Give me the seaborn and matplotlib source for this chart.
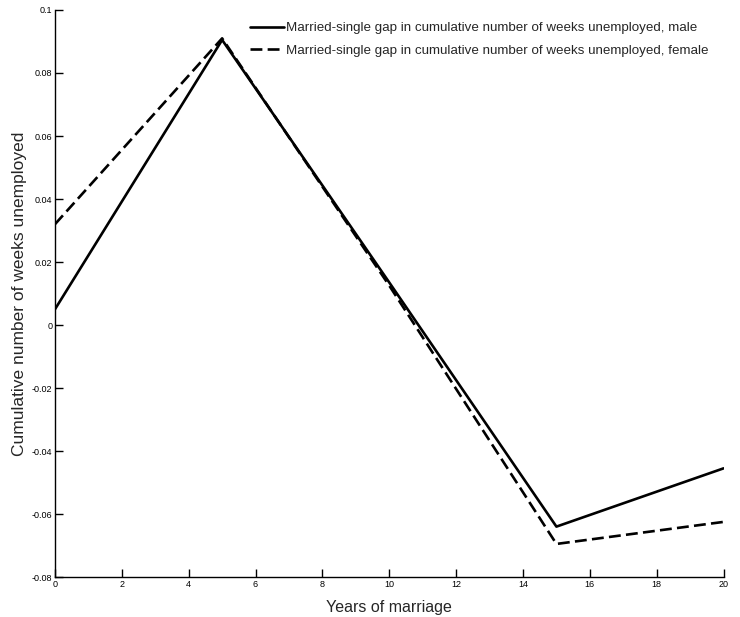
import pandas as pd
import seaborn as sns
import matplotlib.pyplot as plt

sns.set_style("white")
plt.rcParams['font.family'] = ['Liberation Sans', 'DejaVu Sans']

# data
years = [0, 5, 10, 15, 20]
male = [0.005, 0.0905, 0.0135, -0.064, -0.0455]
female = [0.032, 0.091, 0.0125, -0.0695, -0.0625]
lab_m = "Married-single gap in cumulative number of weeks unemployed, male"
lab_f = "Married-single gap in cumulative number of weeks unemployed, female"

df = pd.concat([
    pd.DataFrame({"Years": years, "Gap": male, "Series": lab_m}),
    pd.DataFrame({"Years": years, "Gap": female, "Series": lab_f}),
])

fig = plt.figure(figsize=(7.4, 6.17), dpi=100)
ax = fig.add_axes([0.0743, 0.0648, 0.9035, 0.919])

sns.lineplot(data=df, x="Years", y="Gap", style="Series",
             dashes={lab_m: "", lab_f: (4.5, 2)}, color="black",
             linewidth=1.9, ax=ax)

ax.set_xlim(0, 20)
ax.set_ylim(-0.08, 0.1)
ax.set_xticks(range(0, 21, 2))
ax.set_yticks([-0.08, -0.06, -0.04, -0.02, 0, 0.02, 0.04, 0.06, 0.08, 0.1])
ax.set_yticklabels(["-0.08", "-0.06", "-0.04", "-0.02", "0", "0.02", "0.04", "0.06", "0.08", "0.1"])
ax.tick_params(direction="in", length=6, width=1, labelsize=6.5, colors="black", pad=2,
               left=True, bottom=True)
for s in ["top", "right"]:
    ax.spines[s].set_visible(False)
for s in ["left", "bottom"]:
    ax.spines[s].set_color("black")
    ax.spines[s].set_linewidth(1)

ax.set_xlabel("Years of marriage", fontsize=11.5, labelpad=8)
ax.set_ylabel("Cumulative number of weeks unemployed", fontsize=12.5, labelpad=3)

leg = ax.legend(loc="upper right", frameon=False, fontsize=9.6, handlelength=2.6,
                handletextpad=0.15, labelspacing=0.75, bbox_to_anchor=(0.996, 1.0))
for h in leg.get_lines():
    h.set_linewidth(1.9)

fig.savefig("out.png", dpi=100)
